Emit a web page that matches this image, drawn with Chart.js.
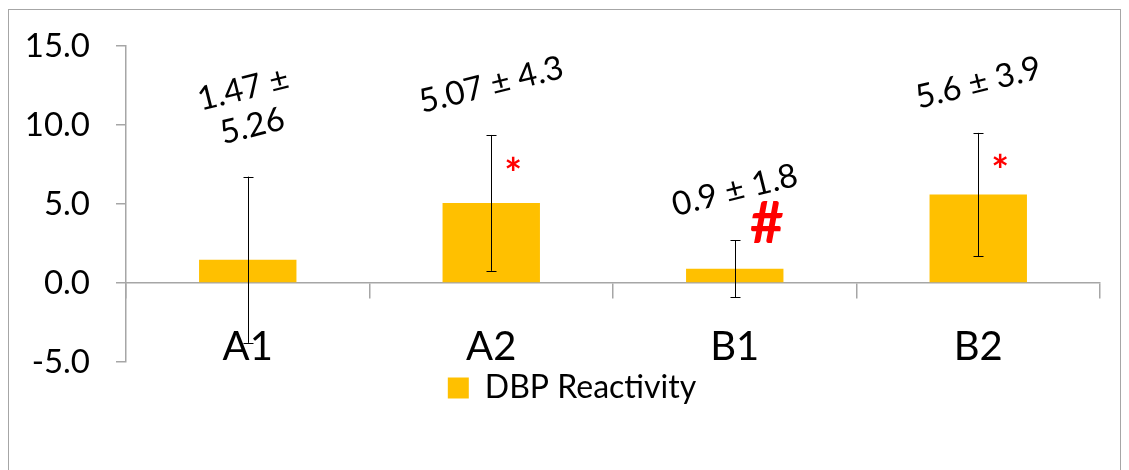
<!DOCTYPE html>
<html>
<head>
<meta charset="utf-8">
<script src="https://cdn.jsdelivr.net/npm/chart.js@4.4.1/dist/chart.umd.min.js"></script>
<style>
  html, body { margin: 0; padding: 0; background: #fff; }
  #wrap { position: relative; width: 1129px; height: 470px; overflow: hidden; }
  #frame { position: absolute; left: 8px; top: 9px; width: 1113px; height: 490px; border: 1.5px solid #a6a6a6; box-sizing: border-box; }
  canvas { position: absolute; left: 0; top: 0; }
</style>
</head>
<body>
<div id="wrap">
  <div id="frame"></div>
  <canvas id="chart" width="1129" height="470"></canvas>
</div>
<script>
const categories = ["A1", "A2", "B1", "B2"];
const reactivity = [1.47, 5.07, 0.9, 5.6];
const errors = [5.26, 4.3, 1.8, 3.9];
const valueLabels = [["1.47 ±", "5.26"], ["5.07 ± 4.3"], ["0.9 ± 1.8"], ["5.6 ± 3.9"]];
const marks = ["", "*", "#", "*"];

const axisGray = "#a6a6a6";
const fontFamily = "Lato, 'Open Sans', sans-serif";

// error bars, value labels and significance marks
const extras = {
  id: "extras",
  afterLayout(chart) {
    // legend sits a bit right of the canvas centre
    chart.legend.left = 44;
  },
  afterDatasetsDraw(chart) {
    const ctx = chart.ctx;
    const y = chart.scales.y;
    const bars = chart.getDatasetMeta(0).data;
    ctx.save();
    bars.forEach((bar, i) => {
      const top = y.getPixelForValue(reactivity[i] + errors[i]);
      const bottom = y.getPixelForValue(reactivity[i] - errors[i]);
      const x = Math.round(bar.x) + 0.5;
      ctx.strokeStyle = "#000";
      ctx.lineWidth = 1;
      ctx.beginPath();
      ctx.moveTo(x, top); ctx.lineTo(x, bottom);
      ctx.moveTo(x - 5, Math.round(top) + 0.5); ctx.lineTo(x + 5, Math.round(top) + 0.5);
      ctx.moveTo(x - 5, Math.round(bottom) + 0.5); ctx.lineTo(x + 5, Math.round(bottom) + 0.5);
      ctx.stroke();

      // rotated value label
      const lines = valueLabels[i];
      const lh = 38;
      ctx.save();
      ctx.translate(bar.x, top - 50 - (lines.length - 1) * lh / 2);
      ctx.rotate(-14 * Math.PI / 180);
      ctx.fillStyle = "#000";
      ctx.font = "33px " + fontFamily;
      ctx.textAlign = "center";
      ctx.textBaseline = "middle";
      lines.forEach((t, k) => {
        ctx.fillText(t, 0, (k - (lines.length - 1) / 2) * lh);
      });
      ctx.restore();

      // significance marks
      const m = marks[i];
      if (m) {
        ctx.fillStyle = "#ff0000";
        ctx.textAlign = "center";
        ctx.textBaseline = "middle";
        if (m === "#") {
          ctx.font = "bold 58px " + fontFamily;
          ctx.fillText(m, bar.x + 32, top - 16);
        } else {
          ctx.font = "bold 42px " + fontFamily;
          ctx.fillText(m, bar.x + 22, top + 40);
        }
      }
    });
    ctx.restore();
  }
};

new Chart(document.getElementById("chart"), {
  type: "bar",
  data: {
    labels: categories,
    datasets: [{
      label: "DBP Reactivity",
      data: reactivity,
      backgroundColor: "#FFC000",
      borderWidth: 0,
      categoryPercentage: 1,
      barPercentage: 0.4
    }]
  },
  options: {
    responsive: false,
    animation: false,
    devicePixelRatio: 1,
    layout: { padding: { left: 0, right: 29, top: 46, bottom: 56 } },
    plugins: {
      tooltip: { enabled: false },
      legend: {
        position: "bottom",
        labels: {
          boxWidth: 21,
          boxHeight: 21,
          color: "#000",
          font: { family: fontFamily, size: 32 }
        }
      }
    },
    scales: {
      x: {
        position: { y: 0 },
        offset: true,
        grid: { offset: true, drawOnChartArea: false, tickLength: 15, color: axisGray, lineWidth: 1.5 },
        border: { color: axisGray, width: 1.5 },
        ticks: { color: "#000", font: { family: fontFamily, size: 40 }, padding: 25, maxRotation: 0 }
      },
      y: {
        min: -5,
        max: 15,
        afterFit(scale) { scale.width = 126; },
        grid: { drawOnChartArea: false, tickLength: 10, color: axisGray, lineWidth: 1.5 },
        border: { color: axisGray, width: 1.5 },
        ticks: {
          stepSize: 5,
          color: "#000",
          padding: 26,
          font: { family: fontFamily, size: 33 },
          callback: (v) => v.toFixed(1)
        }
      }
    }
  },
  plugins: [extras]
});
</script>
</body>
</html>
